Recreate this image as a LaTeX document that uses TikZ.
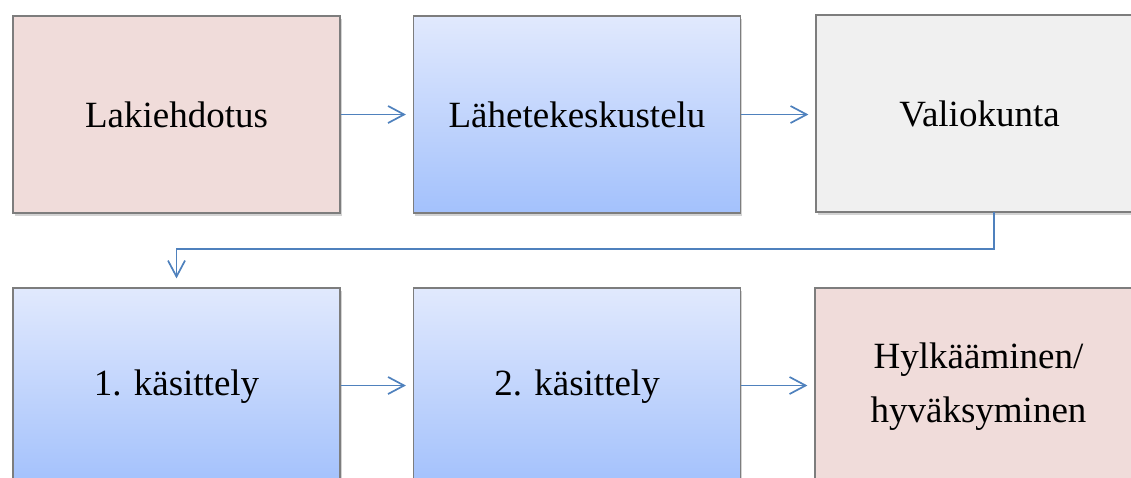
\documentclass[tikz,border=0pt]{standalone}
\usepackage{fontspec}
\setmainfont{Liberation Serif}
\usetikzlibrary{arrows.meta,shadows}
\definecolor{bluetop}{RGB}{225,233,253}
\definecolor{bluebot}{RGB}{163,193,252}
\definecolor{pinkfill}{RGB}{240,220,218}
\definecolor{grayfill}{RGB}{240,240,240}
\definecolor{edgegray}{RGB}{125,125,125}
\definecolor{arrowblue}{RGB}{79,129,189}
\tikzset{
  box/.style={rectangle, draw=edgegray, line width=1.2pt, minimum width=327pt, minimum height=197pt,
    inner sep=0pt, align=center, font=\fontsize{37}{54}\selectfont,
    drop shadow={shadow xshift=1.5pt, shadow yshift=-3pt, opacity=0.35, fill=gray}},
  bluebox/.style={box, top color=bluetop, bottom color=bluebot},
  pinkbox/.style={box, fill=pinkfill},
  graybox/.style={box, fill=grayfill},
  conn/.style={draw=arrowblue, line width=1.7pt, -{Straight Barb[length=16pt,width=17pt,line width=1.7pt]}}
}
\begin{document}
\begin{tikzpicture}[x=1pt,y=-1pt]
\useasboundingbox (0,0) rectangle (1131,477);
\clip (0,0) rectangle (1131,477);
\node[pinkbox] (lak) at (176.5,114.5) {Lakiehdotus};
\node[bluebox] (lah) at (577,114.5) {Lähetekeskustelu};
\node[graybox] (val) at (979.5,113.5) {Valiokunta};
\node[bluebox] (k1) at (176.5,386.5) {1. käsittely};
\node[bluebox] (k2) at (577,386.5) {2. käsittely};
\node[pinkbox] (hyl) at (978.5,386.5) {Hylkääminen/\\hyväksyminen};
\draw[conn, shorten >=7pt] (lak.east) -- (lah.west);
\draw[conn, shorten >=7pt] (lah.east) -- (lah.east -| val.west);
\coordinate (vs) at (994,212);
\draw[conn, shorten >=9pt] (vs) -- (994,249) -- (176.5,249) -- (k1.north);
\draw[conn, shorten >=7pt] ([yshift=1pt]k1.east) -- ([yshift=1pt]k2.west);
\draw[conn, shorten >=7pt] ([yshift=1pt]k2.east) -- ([yshift=1pt]hyl.west);
\end{tikzpicture}
\end{document}
